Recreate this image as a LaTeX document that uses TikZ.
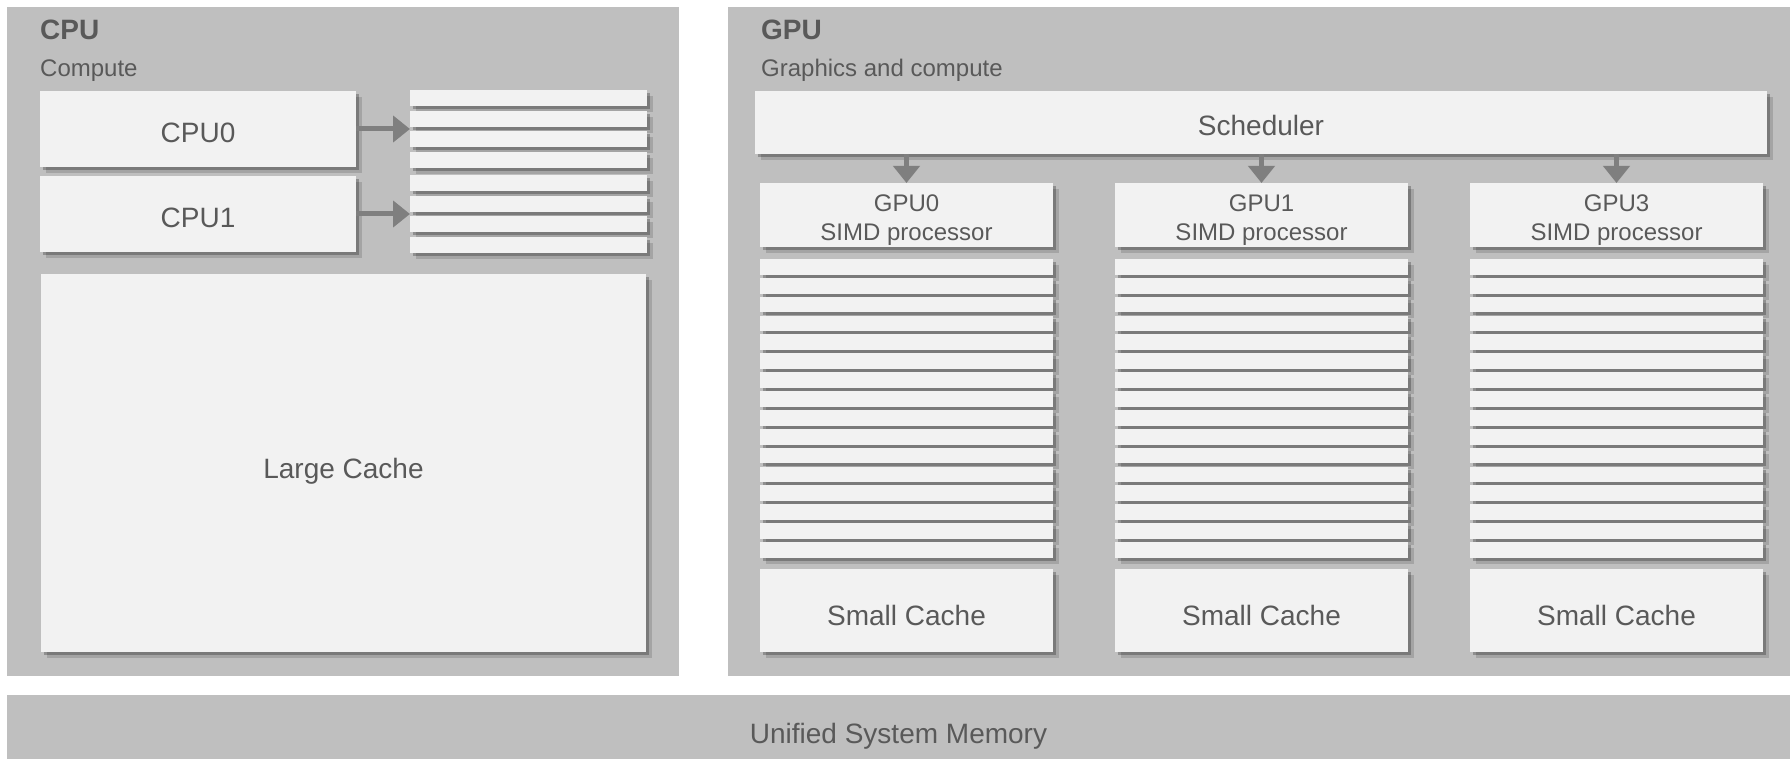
\documentclass[tikz,border=0pt]{standalone}
\usepackage{fontspec}
\setmainfont{Liberation Sans}
\usetikzlibrary{positioning,shadows,arrows.meta}
\definecolor{panelgray}{HTML}{BFBFBF}
\definecolor{boxgray}{HTML}{F2F2F2}
\definecolor{textgray}{HTML}{595959}
\definecolor{arrowgray}{HTML}{7F7F7F}
\newcommand{\bigfont}{\fontsize{28}{34}\selectfont}
\newcommand{\smallfont}{\fontsize{24}{29}\selectfont}

\begin{document}
\begin{tikzpicture}[
    x=1pt, y=-1pt,
    node distance=9pt and 54pt,
    panel/.style={rectangle, fill=panelgray, anchor=north west, inner sep=0pt, outer sep=0pt, text=textgray, font=\bigfont},
    box/.style={rectangle, fill=boxgray, anchor=north west, inner sep=0pt, outer sep=0pt, align=center, text=textgray, font=\bigfont, text depth=0pt,
        drop shadow={shadow xshift=6pt, shadow yshift=-6pt, fill=black, opacity=0.14},
        drop shadow={shadow xshift=3pt, shadow yshift=-3pt, fill=black, opacity=0.25}},
    bigbox/.style={box, text height=27pt},
    reg/.style={box, minimum height=16pt},
    title/.style={anchor=base west, inner sep=0pt, text=textgray, font=\bigfont\bfseries},
    subtitle/.style={anchor=base west, inner sep=0pt, text=textgray, font=\smallfont},
    arrow/.style={-{Triangle[length=17pt, width=26pt]}, line width=5pt, draw=arrowgray},
]
\fill[white] (0,0) rectangle (1790,759);
\node[panel, minimum width=672pt, minimum height=669pt] (cpu) at (7,7) {};
\node[panel, minimum width=1062pt, minimum height=669pt] (gpu) at (728,7) {};
\node[panel, minimum width=1783pt, minimum height=64pt, text height=32pt, text depth=0pt] (mem) at (7,695) {Unified System Memory};
\node[title] (cpu-title) at (40,40) {CPU};
\node[subtitle] (cpu-sub) at (40,77) {Compute};
\node[title] (gpu-title) at (761,40) {GPU};
\node[subtitle] (gpu-sub) at (761,77) {Graphics and compute};
\node[bigbox, minimum width=316pt, minimum height=76pt] (cpu0) at (40,91) {CPU0};
\node[bigbox, minimum width=316pt, minimum height=76pt, below=9pt of cpu0] (cpu1) {CPU1};
\node[bigbox, minimum width=605pt, minimum height=378pt, text height=30pt] (cache) at (41,274) {Large Cache};
\foreach \g in {0,1}
  \foreach \k in {0,...,3}
    \node[reg, minimum width=237pt] (creg\g\k) at (410, 90+85*\g+20.7*\k) {};
\draw[arrow] (cpu0.east) -- (cpu0.east -| creg00.west);
\draw[arrow] (cpu1.east) -- (cpu1.east -| creg10.west);
\node[bigbox, minimum width=1012pt, minimum height=63pt] (sched) at (755,91) {Scheduler};
\foreach \name [count=\i from 0] in {GPU0,GPU1,GPU3} {
  \node[box, font=\smallfont, minimum width=293pt, minimum height=64pt, text height=52pt] (gpu\i) at (760+355*\i,183) {\name\\SIMD processor};
  \foreach \k in {0,...,15}
    \node[reg, minimum width=293pt, minimum height=15.7pt] (greg\i-\k) at (760+355*\i, 259+18.87*\k) {};
  \node[bigbox, minimum width=293pt, minimum height=83pt, text height=29pt] (small\i) at (760+355*\i,569) {Small Cache};
  \draw[arrow] (sched.south -| gpu\i.north) -- (gpu\i.north);
}
\end{tikzpicture}
\end{document}
